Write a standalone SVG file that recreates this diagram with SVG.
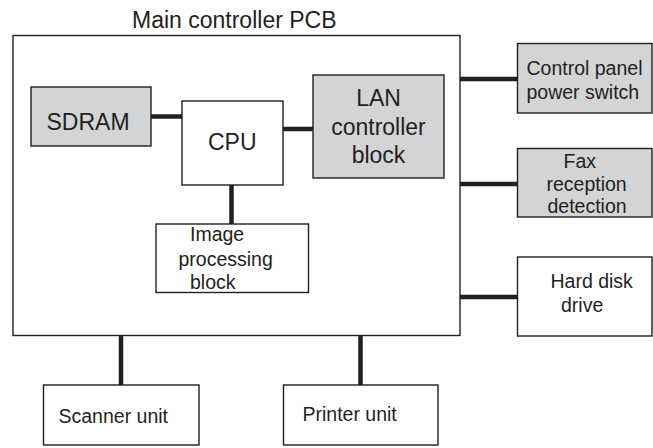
<svg xmlns="http://www.w3.org/2000/svg" width="653" height="448" viewBox="0 0 653 448">
<style>
.box{fill:#ffffff;stroke:#231f20;stroke-width:1.4}
.gray{fill:#d3d4d6;stroke:#231f20;stroke-width:1.4}
.conn{stroke:#231f20;stroke-width:4.5;fill:none}
text{font-family:"Liberation Sans",Arial,sans-serif;fill:#231f20}
.big{font-size:23px}
.sm{font-size:19.5px}
</style>
<rect width="653" height="448" fill="#ffffff"/>
<g id="pcb">
<rect class="box" x="13" y="35.5" width="447" height="300"/>
<text class="big" x="132" y="28">Main controller PCB</text>
</g>
<g id="connectors">
<line class="conn" x1="151" y1="116.5" x2="182" y2="116.5"/>
<line class="conn" x1="283" y1="129" x2="313" y2="129"/>
<line class="conn" x1="231.5" y1="185" x2="231.5" y2="224"/>
<line class="conn" x1="460" y1="79" x2="518" y2="79"/>
<line class="conn" x1="460" y1="184" x2="518" y2="184"/>
<line class="conn" x1="460" y1="297" x2="518" y2="297"/>
<line class="conn" x1="121" y1="335.5" x2="121" y2="385"/>
<line class="conn" x1="360.5" y1="335.5" x2="360.5" y2="385"/>
</g>
<g id="sdram">
<rect class="gray" x="31" y="87" width="120" height="59"/>
<text class="big" x="46.5" y="129.5">SDRAM</text>
</g>
<g id="cpu">
<rect class="box" x="182" y="101" width="101" height="84"/>
<text class="big" x="208" y="150">CPU</text>
</g>
<g id="lan">
<rect class="gray" x="313" y="75" width="131" height="103"/>
<text class="big" text-anchor="middle" x="378.5" y="106">LAN</text>
<text class="big" text-anchor="middle" x="378.5" y="134.5">controller</text>
<text class="big" text-anchor="middle" x="378.5" y="163">block</text>
</g>
<g id="image">
<rect class="box" x="156" y="224" width="152.5" height="68.5"/>
<text class="sm" x="190" y="241">Image</text>
<text class="sm" x="178.5" y="265.5">processing</text>
<text class="sm" x="190" y="289">block</text>
</g>
<g id="control-panel">
<rect class="gray" x="517.5" y="43.5" width="134.5" height="69.5"/>
<text class="sm" x="526.5" y="75">Control panel</text>
<text class="sm" x="526.5" y="98.5">power switch</text>
</g>
<g id="fax">
<rect class="gray" x="517.5" y="148.5" width="134.5" height="68.5"/>
<text class="sm" x="563.5" y="168">Fax</text>
<text class="sm" x="546.5" y="190.5">reception</text>
<text class="sm" x="547.5" y="212.5">detection</text>
</g>
<g id="hdd">
<rect class="box" x="517.5" y="257" width="134.5" height="79"/>
<text class="sm" x="550.5" y="288">Hard disk</text>
<text class="sm" x="561" y="311.5">drive</text>
</g>
<g id="scanner">
<rect class="box" x="43.5" y="385" width="155.5" height="60"/>
<text class="sm" x="58.5" y="423">Scanner unit</text>
</g>
<g id="printer">
<rect class="box" x="283.5" y="385" width="154.5" height="60"/>
<text class="sm" x="302.5" y="421">Printer unit</text>
</g>
</svg>
